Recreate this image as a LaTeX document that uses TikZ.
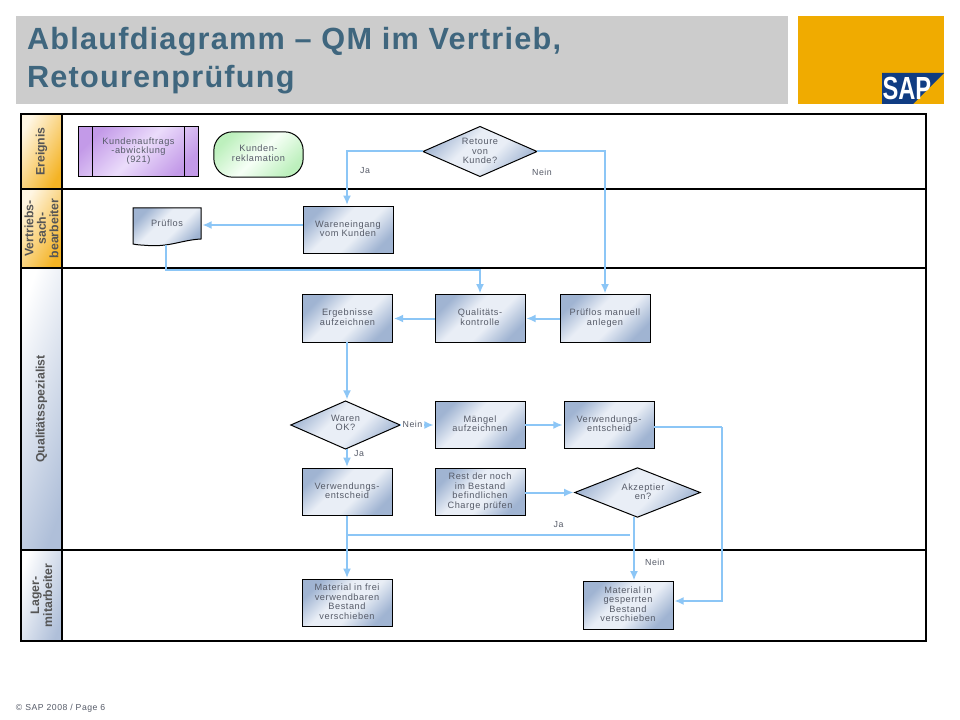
\documentclass[tikz,border=0pt]{standalone}
\usepackage{fontspec}
\setmainfont{Liberation Sans}
\newfontfamily\lblfont[LetterSpace=6]{Liberation Sans}
\newfontfamily\ttlfont[LetterSpace=4]{Liberation Sans}
\usetikzlibrary{shapes.geometric,arrows.meta}
\definecolor{conn}{HTML}{8CC6F6}
\definecolor{txtg}{HTML}{565B68}
\definecolor{steelA}{HTML}{A0B4D2}
\definecolor{steelB}{HTML}{E9EEF6}
\definecolor{ttl}{HTML}{3F667E}
\definecolor{purpA}{HTML}{C39AE8}
\definecolor{purpB}{HTML}{EBDCFB}
\definecolor{grnA}{HTML}{BDF0BD}
\definecolor{grnB}{HTML}{F6FFF6}
\definecolor{orA}{HTML}{FFF6E3}
\definecolor{orB}{HTML}{FBE3B0}
\definecolor{orC}{HTML}{F4B324}
\definecolor{blA}{HTML}{EEF1F8}
\definecolor{blB}{HTML}{AFBFD9}
\definecolor{hdtxt}{HTML}{555555}
\definecolor{sapgold}{HTML}{F0AB00}
\definecolor{sapblue}{HTML}{103C82}
\pgfdeclareverticalshading{steelsh}{100bp}{color(0bp)=(steelA); color(25bp)=(steelA); color(43bp)=(steelB); color(58bp)=(steelB); color(75bp)=(steelA); color(100bp)=(steelA)}
\newcommand{\tx}[2]{\raisebox{#1}{\begin{tabular}{@{}c@{}}#2\end{tabular}}}
\tikzset{
  x=0.75pt,y=-0.75pt,
  every node/.style={outer sep=0pt,inner sep=0pt},
  lbl/.style={font=\lblfont\fontsize{6.9}{6.9}\selectfont,text=txtg,align=center},
  steel/.style={shading=steelsh,shading angle=45,draw=black,line width=0.75pt},
  qbox/.style={steel,lbl,minimum width=67.5pt,minimum height=35.5pt},
  dia/.style={diamond,aspect=2.2,steel},
  purpbox/.style={draw=black,line width=0.75pt,top color=purpA,bottom color=purpA,middle color=purpB,shading angle=45,lbl,minimum width=89.5pt,minimum height=37pt},
  grnbox/.style={draw=black,line width=0.75pt,top color=grnA,bottom color=grnA,middle color=grnB,shading angle=45,lbl,rounded corners=14pt,minimum width=67pt,minimum height=34pt},
  flow/.style={draw=conn,line width=1.5pt},
  arr/.style={flow,-{Latex[length=7pt,width=6pt]},shorten >=1pt},
  flowcap/.style={lbl,font=\lblfont\fontsize{6.6}{7}\selectfont},
  cellO/.style={draw=black,line width=1.6pt,rotate=90,top color=orA,middle color=orB,bottom color=orC,shading angle=60,text=hdtxt,align=center},
  cellB/.style={draw=black,line width=1.6pt,rotate=90,top color=white,middle color=blA,bottom color=blB,shading angle=70,text=hdtxt,align=center},
  lane/.style={draw=black,line width=1.6pt}
}
\begin{document}
\begin{tikzpicture}
\useasboundingbox (0,0) rectangle (960,720);
\fill[white] (0,0) rectangle (960,720);
% header
\fill[black!20] (16,16) rectangle (788,104);
\node[anchor=base west,text=ttl,font=\ttlfont\bfseries\fontsize{23}{28.5}\selectfont,align=left] (title) at (27,88) {Ablaufdiagramm – QM im Vertrieb,\\Retourenprüfung};
\fill[sapgold] (798,16) rectangle (944,104);
\fill[sapblue] (882,73) -- (944,73) -- (913,104) -- (882,104) -- cycle;
\node[anchor=base west,text=white,font=\bfseries\fontsize{24}{24}\selectfont,xscale=0.74] (sap) at (882.5,100) {SAP};
% swimlanes
\draw[lane] (62,114) rectangle (926,641);
\draw[lane] (21,189) -- (926,189);
\draw[lane] (21,268) -- (926,268);
\draw[lane] (21,550) -- (926,550);
\node[cellO,font=\bfseries\fontsize{9.2}{9.4}\selectfont,minimum width=56.25pt,minimum height=30.75pt] (c1) at (41.5,151.5) {Ereignis};
\node[cellO,font=\bfseries\fontsize{9.2}{9.4}\selectfont,minimum width=59.25pt,minimum height=30.75pt] (c2) at (41.5,228.5) {Vertriebs-\\sach-\\bearbeiter};
\node[cellB,font=\bfseries\fontsize{9.2}{9.4}\selectfont,minimum width=211pt,minimum height=30.75pt] (c3) at (41.5,409) {Qualitätsspezialist};
\node[cellB,font=\bfseries\fontsize{9.2}{7.2}\selectfont,minimum width=68.25pt,minimum height=30.75pt] (c4) at (41.5,595.5) {Lager-\\mitarbeiter};
% flow objects
\node[purpbox] (ka) at (138.5,151.5) {\tx{0pt}{Kundenauftrags\\-abwicklung\\(921)}};
\draw[line width=0.75pt] ([xshift=10.5pt]ka.north west) -- ([xshift=10.5pt]ka.south west);
\draw[line width=0.75pt] ([xshift=-10.5pt]ka.north east) -- ([xshift=-10.5pt]ka.south east);
\node[grnbox] (kr) at (258.5,154.5) {\tx{1pt}{Kunden-\\reklamation}};
\node[dia,minimum width=85.5pt,minimum height=37.5pt] (ret) at (480,151.5) {};
\node[lbl] (rett) at (480,151) {Retoure\\von\\Kunde?};
\path[shading=steelsh,shading angle=45,draw=black,line width=0.75pt]
  (133,208) -- (201,208) -- (201,239) .. controls (182,240) and (170,247) .. (148,245.5) .. controls (142,245) and (137,245) .. (133,244) -- cycle;
\node[lbl,minimum width=51pt,minimum height=20pt] (pl) at (167,225) {\tx{1.5pt}{Prüflos}};
\coordinate (plb) at (166,245);
\node[qbox] (we) at (348,230) {\tx{0.4pt}{Wareneingang\\vom Kunden}};
\node[qbox] (erg) at (347.5,318.5) {\tx{0.8pt}{Ergebnisse\\aufzeichnen}};
\node[qbox] (qk) at (480,318.5) {\tx{0.8pt}{Qualitäts-\\kontrolle}};
\node[qbox] (pm) at (605,318.5) {\tx{0.8pt}{Prüflos manuell\\anlegen}};
\node[dia,minimum width=82pt,minimum height=36pt] (wok) at (345.5,425) {};
\node[lbl] (wokt) at (345.5,423) {Waren\\OK?};
\node[qbox] (mg) at (480,425) {\tx{1.5pt}{Mängel\\aufzeichnen}};
\node[qbox] (ve2) at (609,425) {\tx{1.2pt}{Verwendungs-\\entscheid}};
\node[qbox] (ve1) at (347,492) {\tx{0.4pt}{Verwendungs-\\entscheid}};
\node[qbox] (rest) at (480,492) {\tx{0.4pt}{Rest der noch\\im Bestand\\befindlichen\\Charge prüfen}};
\node[dia,minimum width=94pt,minimum height=37pt] (akz) at (637.5,492.5) {};
\node[lbl] (akzt) at (643,491.5) {Akzeptier\\en?};
\node[qbox] (mf) at (347,603) {\tx{0pt}{Material in frei\\verwendbaren\\Bestand\\verschieben}};
\node[qbox] (ms) at (628,605.5) {\tx{0.8pt}{Material in\\gesperrten\\Bestand\\verschieben}};
% connector anchor points
\coordinate (rl) at (347,151.5);
\coordinate (rr) at (605,151.5);
\coordinate (bend) at (480,270);
\coordinate (akb) at (634,517);
\coordinate (jar) at (630,535);
\coordinate (jal) at (347,535);
\coordinate (vr) at (722,427);
\coordinate (vd) at (722,601);
% connectors
\draw[arr] (ret.west) -- (rl) -- (rl |- we.north);
\draw[arr] (ret.east) -- (rr) -- (rr |- pm.north);
\draw[arr] (pl.east -| we.west) -- (pl.east);
\draw[arr] (plb) |- (bend) -- (qk.north);
\draw[arr] (pm.west) -- (qk.east);
\draw[arr] (qk.west) -- (erg.east);
\draw[arr] (erg.south -| jal) -- (jal |- wok.north);
\draw[arr] (wok.east) -- (mg.west);
\draw[arr] (mg.east) -- (ve2.west);
\draw[flow] (ve2.east |- vr) -- (vr);
\draw[arr] (vr) -- (vd) -- (ms.east |- vd);
\draw[arr] (jal |- wok.south) -- (jal |- ve1.north);
\draw[arr] (jal |- ve1.south) -- (jal |- mf.north);
\draw[arr] (rest.east |- akz.west) -- (akz.west);
\draw[flow] (jar) -- (jal);
\draw[arr] (akb) -- (akb |- ms.north);
% captions
\node[flowcap] (j1) at (365,171) {Ja};
\node[flowcap] (n1) at (542,172) {Nein};
\node[flowcap,fill=white,inner xsep=1pt,inner ysep=1pt] (n2) at (412.5,424) {Nein};
\node[flowcap] (j2) at (359,453.5) {Ja};
\node[flowcap] (j3) at (558.5,524.5) {Ja};
\node[flowcap] (n3) at (655,562) {Nein};
\node[anchor=west,text=txtg,font=\lblfont\fontsize{6.5}{7}\selectfont] (foot) at (16,708) {© SAP 2008 / Page 6};
\end{tikzpicture}
\end{document}
